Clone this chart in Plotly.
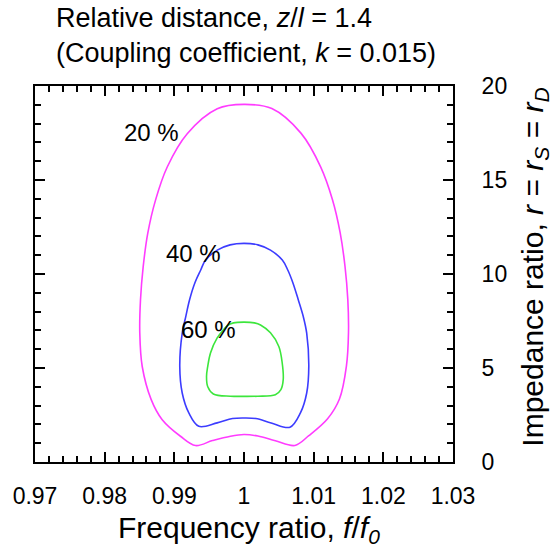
import plotly.graph_objects as go

# Contour of transfer efficiency in the (f/f0, r) plane, traced around each closed loop
eff_labels = ["20 %", "40 %", "60 %"]

f_20 = [1.0000, 0.99616, 0.99185, 0.98898, 0.98730, 0.98619, 0.98553, 0.98514, 0.98504,
        0.98539, 0.98668, 0.98826, 0.99088, 0.99304, 0.99548, 0.99806, 1.0000,
        1.0020, 1.0045, 1.0073, 1.0093, 1.0120, 1.0137, 1.0147, 1.0150, 1.0149,
        1.0145, 1.0138, 1.0127, 1.0110, 1.0082, 1.0040, 1.0000]
r_20 = [19.02, 18.79, 17.46, 15.69, 13.93, 12.17, 10.39, 8.62, 6.87,
        5.08, 3.32, 2.25, 1.37, 0.875, 1.14, 1.37, 1.46,
        1.38, 1.13, 0.88, 1.40, 2.30, 3.35, 5.10, 6.90, 8.65,
        10.40, 12.20, 13.95, 15.70, 17.48, 18.80, 19.02]

f_40 = [1.0000, 0.99800, 0.99616, 0.99448, 0.99377, 0.99297, 0.99218, 0.99165, 0.99113,
        0.99078, 0.99113, 0.99208, 0.99351, 0.99615, 0.99835, 1.0000,
        1.0017, 1.0039, 1.0066, 1.0081, 1.0090, 1.0093, 1.0090, 1.0085, 1.0078,
        1.0070, 1.0063, 1.0055, 1.0038, 1.0020, 1.0000]
r_40 = [11.63, 11.55, 11.27, 10.74, 10.20, 9.55, 8.62, 7.75, 6.85,
        5.08, 3.67, 2.61, 1.90, 2.08, 2.31, 2.34,
        2.31, 2.08, 1.85, 2.61, 3.67, 5.08, 6.85, 7.75, 8.62,
        9.55, 10.20, 10.74, 11.27, 11.55, 11.63]

f_60 = [1.0000, 0.99850, 0.99760, 0.99706, 0.99615, 0.99519, 0.99480, 0.99462, 0.99480,
        0.99560, 0.99806, 1.0000,
        1.0020, 1.0045, 1.0053, 1.00563, 1.00548, 1.0050, 1.0038, 1.00237, 1.0015, 1.0000]
r_60 = [7.44, 7.40, 7.25, 7.03, 6.60, 5.80, 5.10, 4.55, 4.00,
        3.62, 3.50, 3.49,
        3.50, 3.58, 3.85, 4.38, 5.28, 6.14, 6.87, 7.29, 7.40, 7.44]

# Label anchor points for each contour level
label_f = [0.98672, 0.99268, 0.99490]
label_r = [17.53, 11.11, 7.03]

x_tickvals = [0.97, 0.98, 0.99, 1.00, 1.01, 1.02, 1.03]
x_ticktext = ["0.97", "0.98", "0.99", "1", "1.01", "1.02", "1.03"]
y_tickvals = [0, 5, 10, 15, 20]

FONT = "Liberation Sans, Arial, sans-serif"
colors = ["#ff3cff", "#3c3cff", "#3ce63c"]

fig = go.Figure()
for fx, ry, c in zip([f_20, f_40, f_60], [r_20, r_40, r_60], colors):
    fig.add_trace(go.Scatter(x=fx, y=ry, mode="lines",
                             line=dict(color=c, width=1.6, shape="spline", smoothing=1.0),
                             showlegend=False, hoverinfo="skip"))

for txt, fx, ry in zip(eff_labels, label_f, label_r):
    fig.add_annotation(x=fx, y=ry, xref="x", yref="y", text=txt, showarrow=False,
                       font=dict(family=FONT, size=24, color="black"))

axis_common = dict(showline=True, linecolor="black", linewidth=2, mirror="ticks",
                   ticks="inside", tickcolor="black", tickwidth=1.5, ticklen=10,
                   showgrid=False, zeroline=False,
                   tickfont=dict(family=FONT, size=23, color="black"))

fig.update_xaxes(range=[0.97, 1.03], tickvals=x_tickvals, ticktext=x_ticktext,
                 minor=dict(dtick=0.002, tick0=0.97, ticks="inside", ticklen=6,
                            tickwidth=1.5, tickcolor="black", showgrid=False),
                 ticklabelstandoff=12, **axis_common)
fig.update_yaxes(range=[0, 20], tickvals=y_tickvals, side="right",
                 minor=dict(dtick=1, tick0=0, ticks="inside", ticklen=6,
                            tickwidth=1.5, tickcolor="black", showgrid=False),
                 ticklabelstandoff=22, **axis_common)

# Heading and axis titles
fig.add_annotation(xref="paper", yref="paper", x=0.046, y=1.225, xanchor="left", yanchor="top",
                   align="left", showarrow=False,
                   text="Relative distance, <i>z</i>/<i>l</i> = 1.4<br>(Coupling coefficient, <i>k</i> = 0.015)",
                   font=dict(family=FONT, size=27, color="black"))
fig.add_annotation(xref="paper", yref="paper", x=0.512, y=-0.18, xanchor="center", yanchor="middle",
                   showarrow=False,
                   text="Frequency ratio, <i>f</i>/<i>f</i><sub><i>0</i></sub>",
                   font=dict(family=FONT, size=30, color="black"))
fig.add_annotation(xref="paper", yref="paper", x=1.193, y=0.5186, xanchor="center", yanchor="middle",
                   showarrow=False, textangle=-90,
                   text="Impedance ratio, <i>r</i> = <i>r</i><sub><i>S</i></sub> = <i>r</i><sub><i>D</i></sub>",
                   font=dict(family=FONT, size=30, color="black"))

fig.update_layout(width=555, height=549, margin=dict(l=35, r=102, t=86, b=87),
                  paper_bgcolor="white", plot_bgcolor="white")

fig.write_html("out.html")
